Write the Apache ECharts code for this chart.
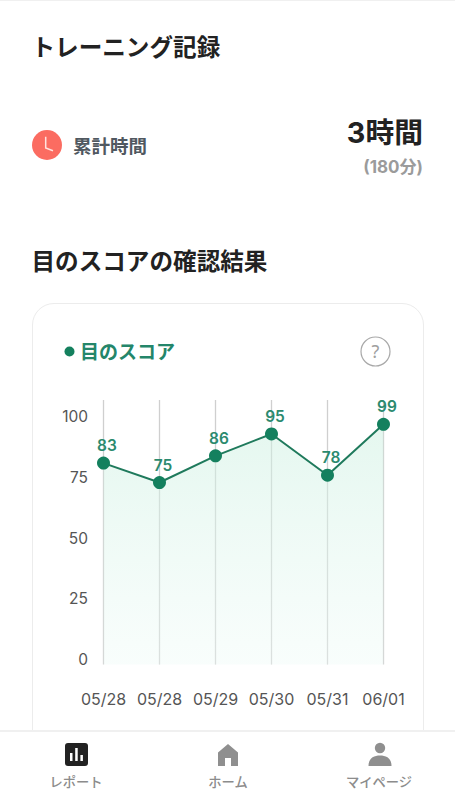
<!DOCTYPE html>
<html lang="ja"><head><meta charset="utf-8">
<script src="https://cdn.jsdelivr.net/npm/echarts@6/dist/echarts.min.js"></script>
<style>
html,body{margin:0;padding:0;background:#fff;width:455px;height:800px;overflow:hidden;font-family:"Noto Sans CJK JP","Noto Sans",sans-serif}
.a{position:absolute;white-space:nowrap;line-height:1}
#top{left:0;top:0;width:455px;height:1px;background:#f0f0f0}
#card{left:32px;top:303px;width:390px;height:450px;border:1px solid #ececec;border-radius:22px;box-sizing:content-box}
#chart{position:absolute;left:0;top:0;width:455px;height:800px}
#nav{left:0;top:730px;width:455px;height:70px;background:#fff;border-top:2px solid #f0f0f0;box-sizing:border-box}
.nl{font-size:13.3px;font-weight:500;color:#8c8c8c;transform:translateX(-50%)}
</style></head><body>
<div class="a" id="top"></div>
<div class="a" style="left:31.5px;top:35px;font-size:23.6px;font-weight:700;color:#222">トレーニング記録</div>
<svg class="a" style="left:32px;top:130px" width="30" height="30" viewBox="0 0 30 30"><circle cx="15" cy="15" r="15" fill="#fb6c61"/><path d="M13.7 6.7V18L21 20.7" fill="none" stroke="#ffe3df" stroke-width="1.5"/></svg>
<div class="a" style="left:73px;top:136px;font-size:18.5px;font-weight:700;color:#505860">累計時間</div>
<div class="a" style="right:32px;top:119px;font-size:28.8px;font-weight:700;color:#222;font-family:Inter,'Noto Sans CJK JP'">3時間</div>
<div class="a" style="right:32px;top:158.5px;font-size:17px;font-weight:700;color:#9b9b9b;font-family:Inter,'Noto Sans CJK JP'">(180分)</div>
<div class="a" style="left:31.5px;top:249px;font-size:23.6px;font-weight:700;color:#222">目のスコアの確認結果</div>
<div class="a" id="card"></div>
<svg class="a" style="left:64px;top:346px" width="11" height="11"><circle cx="5.5" cy="5.5" r="5" fill="#14805e"/></svg>
<div class="a" style="left:80px;top:341px;font-size:19px;font-weight:700;color:#24866a">目のスコア</div>
<svg class="a" style="left:360px;top:336px" width="31" height="31"><circle cx="15.5" cy="15.5" r="14.5" fill="#fff" stroke="#a8a8a8" stroke-width="1.2"/><text x="15.5" y="22" text-anchor="middle" font-size="18" fill="#a0a0a0" font-family="Noto Sans">?</text></svg>
<div id="chart"></div>
<div class="a" id="nav"></div>
<svg class="a" style="left:65px;top:743px" width="23" height="24"><rect x="0" y="0" width="23" height="23" rx="3" fill="#222"/><rect x="5" y="10" width="2.5" height="8" fill="#fff"/><rect x="10.2" y="5" width="2.5" height="13" fill="#fff"/><rect x="15.4" y="12" width="2.5" height="6" fill="#fff"/></svg>
<div class="a nl" style="left:76px;top:775px">レポート</div>
<svg class="a" style="left:217px;top:743px" width="22" height="24"><path d="M11 1L21 9.5V23H14V15H8V23H1V9.5Z" fill="#8f8f8f"/></svg>
<div class="a nl" style="left:228px;top:775px">ホーム</div>
<svg class="a" style="left:368px;top:742px" width="24" height="25"><circle cx="12" cy="6" r="5.2" fill="#8f8f8f"/><path d="M0.5 24C0.5 16 6 13.5 12 13.5S23.5 16 23.5 24Z" fill="#8f8f8f"/></svg>
<div class="a nl" style="left:379px;top:775px">マイページ</div>
<script>
const categories=["05/28","05/28","05/29","05/30","05/31","06/01"];
const scores=[83,75,86,95,78,99];
const yMin=0,yMax=109,yStep=25;
const chart=echarts.init(document.getElementById('chart'),null,{renderer:'svg'});
chart.setOption({
 animation:false,
 grid:{left:103.5,right:71.5,top:400,height:264.5,containLabel:false},
 xAxis:{type:'category',boundaryGap:false,data:categories,
  axisLine:{show:false},axisTick:{show:false},
  axisLabel:{margin:26,color:'#555',fontSize:16,fontFamily:'Inter, "Noto Sans"',interval:0,hideOverlap:false},
  splitLine:{show:true,interval:0,lineStyle:{color:'#cfcfcf',width:1.3}}},
 yAxis:{type:'value',min:yMin,max:yMax,interval:yStep,
  axisLine:{show:false},axisTick:{show:false},splitLine:{show:false},
  axisLabel:{margin:15.5,color:'#555',fontSize:15.5,fontFamily:'Inter, "Noto Sans"',verticalAlign:'bottom',lineHeight:10,showMaxLabel:false}},
 series:[{type:'line',data:scores,symbol:'circle',symbolSize:13,clip:false,
  itemStyle:{color:'#14805e',borderWidth:0},
  lineStyle:{color:'#1f7a5c',width:2},
  areaStyle:{color:new echarts.graphic.LinearGradient(0,0,0,1,[{offset:0,color:'rgba(205,240,225,0.75)'},{offset:1,color:'rgba(238,251,247,0.55)'}])},
  label:{show:true,position:'top',distance:3,offset:[3.5,0],color:'#2b8a6e',fontSize:15.5,fontWeight:600,fontFamily:'Inter, "Noto Sans"'}}]
});
</script>
</body></html>
